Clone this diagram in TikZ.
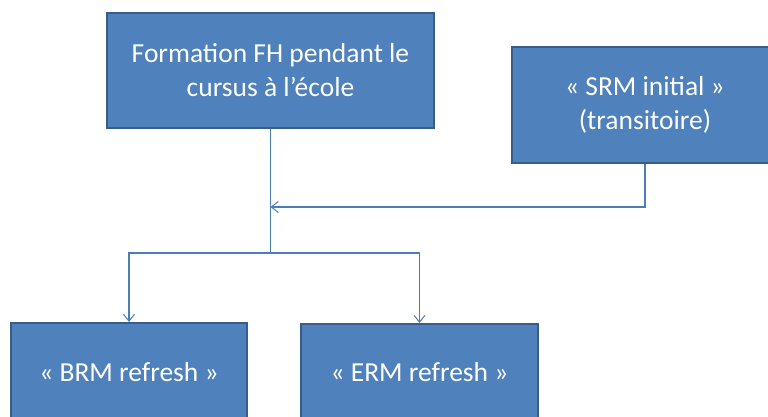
\documentclass[tikz,border=0pt]{standalone}
\usepackage{fontspec}
\setmainfont{Carlito}
\usetikzlibrary{arrows.meta}
\definecolor{boxfill}{HTML}{4F81BD}
\definecolor{boxline}{HTML}{385D8A}
\definecolor{linkcol}{HTML}{4A7EBB}
\begin{document}
\begin{tikzpicture}[x=1pt,y=-1pt,
  box/.style={draw=boxline, line width=2pt, fill=boxfill, text=white,
    align=center, inner sep=0pt, font=\fontsize{27.5}{34}\selectfont},
  link/.style={draw=linkcol, line width=1.2pt},
  tip/.style={-{Straight Barb[length=7pt,width=11pt,line width=1pt]}}]
% page area
\clip (0,0) rectangle (768,416);
\fill[white] (0,0) rectangle (768,416);
% boxes
\node[box, minimum width=327pt, minimum height=115pt] (fh) at (270.5,70.5)
  {Formation FH pendant le\\cursus à l’école};
\node[box, minimum width=266pt, minimum height=116pt] (srm) at (645,105)
  {« SRM initial »\\(transitoire)};
\node[box, minimum width=236pt, minimum height=98pt] (brm) at (129,372)
  {« BRM refresh »};
\node[box, minimum width=237pt, minimum height=97pt] (erm) at (419.5,372.5)
  {« ERM refresh »};
% connectors
\coordinate (merge) at (fh.south |- 0,207);
\coordinate (split) at (fh.south |- 0,253);
\draw[link] (fh.south) -- (split);
\draw[link,tip] (srm.south) |- (merge);
\draw[link,tip] (split) -| (brm.north);
\draw[link,tip] (split) -| (erm.north);
\end{tikzpicture}
\end{document}
